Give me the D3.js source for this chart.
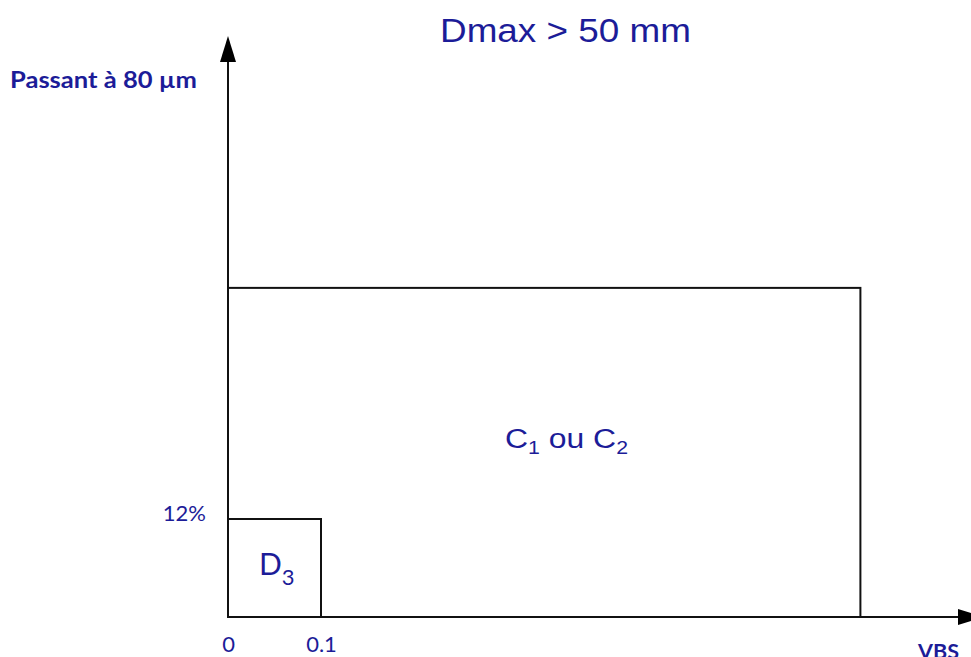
<!DOCTYPE html>
<html>
<head>
<meta charset="utf-8">
<script src="https://cdn.jsdelivr.net/npm/d3@7"></script>
<style>
  html, body { margin: 0; padding: 0; background: #fff; overflow: hidden; }
  svg { display: block; }
</style>
</head>
<body>
<svg id="chart" width="971" height="657"></svg>
<script>
// data
const title = 'Dmax > 50 mm';
const yLabel = 'Passant à 80 µm';
const xLabel = 'VBS';
const vbsTicks = [0, 0.1];
const passantTicks = [12];
const zoneNames = ['C', 'D'];
const zoneSubs = [['1', '2'], ['3']];
const zoneVbsMax = [0.68, 0.1];
const zonePassantMax = [40.3, 12];

const blue = '#1c1c98';
const ink = '#111';

const svg = d3.select('#chart');

const x = d3.scaleLinear().domain([0, 0.1]).range([228, 321]);
const y = d3.scaleLinear().domain([0, 12]).range([617, 519]);

// zones
svg.selectAll('rect.zone')
  .data(zoneVbsMax)
  .enter()
  .append('rect')
  .attr('class', 'zone')
  .attr('x', x(0))
  .attr('y', (d, i) => y(zonePassantMax[i]))
  .attr('width', d => x(d) - x(0))
  .attr('height', (d, i) => y(0) - y(zonePassantMax[i]))
  .attr('fill', 'none')
  .attr('stroke', ink)
  .attr('stroke-width', 2);

// axes lines with arrow heads
const yTop = 36;
const xEnd = 984;
svg.append('line')
  .attr('x1', x(0)).attr('y1', y(0))
  .attr('x2', x(0)).attr('y2', yTop + 20)
  .attr('stroke', ink).attr('stroke-width', 2);
svg.append('path')
  .attr('d', `M${x(0)},${yTop} L${x(0) - 8},${yTop + 26} L${x(0) + 8},${yTop + 26} Z`)
  .attr('fill', '#000');
svg.append('line')
  .attr('x1', x(0)).attr('y1', y(0))
  .attr('x2', xEnd - 20).attr('y2', y(0))
  .attr('stroke', ink).attr('stroke-width', 2);
svg.append('path')
  .attr('d', `M${xEnd},${y(0)} L${xEnd - 26},${y(0) - 8} L${xEnd - 26},${y(0) + 8} Z`)
  .attr('fill', '#000');

// tick labels via d3 axes
const xAxis = d3.axisBottom(x).tickValues(vbsTicks).tickSize(0).tickPadding(0)
  .tickFormat(d => String(d));
const gx = svg.append('g').attr('transform', `translate(0,${y(0)})`).call(xAxis);
gx.select('.domain').remove();
gx.selectAll('text')
  .attr('dy', null)
  .attr('y', 35)
  .attr('font-family', 'Lato, "Open Sans", sans-serif')
  .attr('font-size', 22)
  .attr('fill', blue);

const yAxis = d3.axisLeft(y).tickValues(passantTicks).tickSize(0).tickPadding(0)
  .tickFormat(d => d + '%');
const gy = svg.append('g').attr('transform', `translate(${x(0)},0)`).call(yAxis);
gy.select('.domain').remove();
gy.selectAll('text')
  .attr('dy', null)
  .attr('x', -22)
  .attr('y', 1)
  .attr('font-family', 'Lato, "Open Sans", sans-serif')
  .attr('font-size', 22)
  .attr('fill', blue);

// title and axis names
svg.append('text')
  .attr('x', 440).attr('y', 42)
  .attr('font-family', '"Liberation Sans", Arial, sans-serif')
  .attr('font-size', 33)
  .attr('textLength', 251)
  .attr('lengthAdjust', 'spacingAndGlyphs')
  .attr('fill', blue)
  .text(title);

svg.append('text')
  .attr('x', 10).attr('y', 88)
  .attr('font-family', 'Lato, "Open Sans", sans-serif')
  .attr('font-weight', 'bold')
  .attr('font-size', 22)
  .attr('textLength', 187)
  .attr('lengthAdjust', 'spacingAndGlyphs')
  .attr('fill', blue)
  .text(yLabel);

svg.append('text')
  .attr('x', 918).attr('y', 659)
  .attr('font-family', 'Lato, "Open Sans", sans-serif')
  .attr('font-weight', 'bold')
  .attr('font-size', 21)
  .attr('textLength', 41)
  .attr('lengthAdjust', 'spacingAndGlyphs')
  .attr('fill', blue)
  .text(xLabel);

// zone labels
const c = svg.append('text')
  .attr('x', 505).attr('y', 448)
  .attr('font-family', '"Liberation Sans", Arial, sans-serif')
  .attr('font-size', 27)
  .attr('textLength', 123)
  .attr('lengthAdjust', 'spacingAndGlyphs')
  .attr('fill', blue);
c.append('tspan').text(zoneNames[0]);
c.append('tspan').attr('font-size', 18).attr('dy', 6).text(zoneSubs[0][0]);
c.append('tspan').attr('dy', -6).text(' ou ' + zoneNames[0]);
c.append('tspan').attr('font-size', 18).attr('dy', 6).text(zoneSubs[0][1]);

const dLab = svg.append('text')
  .attr('x', 259).attr('y', 575)
  .attr('font-family', 'Lato, "Open Sans", sans-serif')
  .attr('font-size', 30)
  .attr('fill', blue);
dLab.append('tspan').text(zoneNames[1]);
dLab.append('tspan').attr('font-size', 22).attr('dy', 10).text(zoneSubs[1][0]);
</script>
</body>
</html>
